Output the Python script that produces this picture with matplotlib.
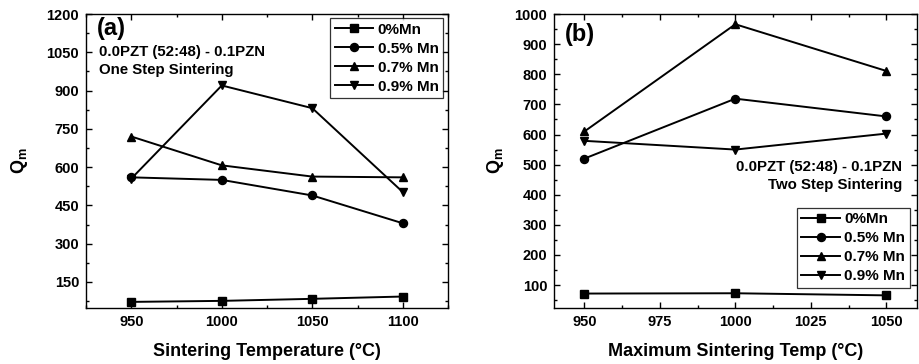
import matplotlib
matplotlib.use("Agg")
import matplotlib.pyplot as plt
from matplotlib.ticker import MultipleLocator

plt.rcParams['font.family'] = ['Liberation Sans', 'DejaVu Sans']
plt.rcParams['font.weight'] = 'bold'

# Panel (a): one step sintering
temps_a = [950, 1000, 1050, 1100]
a_0 = [72, 76, 84, 93]
a_05 = [560, 550, 489, 380]
a_07 = [720, 607, 563, 560]
a_09 = [555, 920, 831, 502]

# Panel (b): two step sintering
temps_b = [950, 1000, 1050]
b_0 = [72, 73, 66]
b_05 = [520, 719, 660]
b_07 = [610, 966, 811]
b_09 = [579, 550, 603]

labels = ['0%Mn', '0.5% Mn', '0.7% Mn', '0.9% Mn']
markers = ['s', 'o', '^', 'v']

fig = plt.figure(figsize=(9.19, 3.64), dpi=100)
axa = fig.add_axes([0.0936, 0.1538, 0.394, 0.8077])
axb = fig.add_axes([0.603, 0.1538, 0.3943, 0.8077])

def style(ax):
    ax.tick_params(which='both', direction='in', top=True, right=True, labelsize=10.5,
                   width=1.0, colors='black')
    ax.tick_params(which='major', length=4, pad=5)
    ax.tick_params(which='minor', length=2.5)
    for s in ax.spines.values():
        s.set_linewidth(1.0)
    for lab in ax.get_xticklabels() + ax.get_yticklabels():
        lab.set_fontweight('bold')

def legend(ax, **kw):
    leg = ax.legend(fontsize=11, handlelength=2.5, frameon=True, fancybox=False,
                    borderaxespad=0, labelspacing=0.33, handletextpad=0.3, borderpad=0.3,
                    **kw)
    leg.get_frame().set_edgecolor('black')
    leg.get_frame().set_linewidth(0.9)
    for t in leg.get_texts():
        t.set_fontweight('bold')

for ax, x, series in [(axa, temps_a, [a_0, a_05, a_07, a_09]),
                      (axb, temps_b, [b_0, b_05, b_07, b_09])]:
    for y, m, lab in zip(series, markers, labels):
        ax.plot(x, y, color='black', marker=m, markersize=5.8, linewidth=1.4, label=lab)

axa.set_xlim(925, 1125)
axa.set_ylim(48, 1200)
axa.xaxis.set_major_locator(MultipleLocator(50))
axa.xaxis.set_minor_locator(MultipleLocator(25))
axa.yaxis.set_minor_locator(MultipleLocator(75))
axa.set_yticks([150, 300, 450, 600, 750, 900, 1050, 1200])
style(axa)
axa.set_xlabel('Sintering Temperature (°C)', fontsize=13, fontweight='bold', labelpad=10)
axa.set_ylabel('Q$_\\mathregular{m}$', fontsize=13, fontweight='bold', labelpad=12)
axa.text(0.03, 0.99, '(a)', transform=axa.transAxes, fontsize=17, fontweight='bold', va='top')
axa.text(0.035, 0.895, '0.0PZT (52:48) - 0.1PZN\nOne Step Sintering', transform=axa.transAxes,
         fontsize=10.8, fontweight='bold', va='top', linespacing=1.4)
legend(axa, loc='upper right', bbox_to_anchor=(0.987, 0.986))

axb.set_xlim(940, 1060)
axb.set_ylim(24, 1000)
axb.xaxis.set_major_locator(MultipleLocator(25))
axb.xaxis.set_minor_locator(MultipleLocator(12.5))
axb.yaxis.set_minor_locator(MultipleLocator(50))
axb.set_yticks([100, 200, 300, 400, 500, 600, 700, 800, 900, 1000])
style(axb)
axb.set_xlabel('Maximum Sintering Temp (°C)', fontsize=13, fontweight='bold', labelpad=10)
axb.set_ylabel('Q$_\\mathregular{m}$', fontsize=13, fontweight='bold', labelpad=6)
axb.text(0.03, 0.97, '(b)', transform=axb.transAxes, fontsize=17, fontweight='bold', va='top')
axb.text(0.96, 0.505, '0.0PZT (52:48) - 0.1PZN\nTwo Step Sintering', transform=axb.transAxes,
         fontsize=10.8, fontweight='bold', va='top', ha='right', multialignment='right',
         linespacing=1.4)
legend(axb, loc='lower right', bbox_to_anchor=(0.9815, 0.068))

fig.savefig('out.png', dpi=100)
